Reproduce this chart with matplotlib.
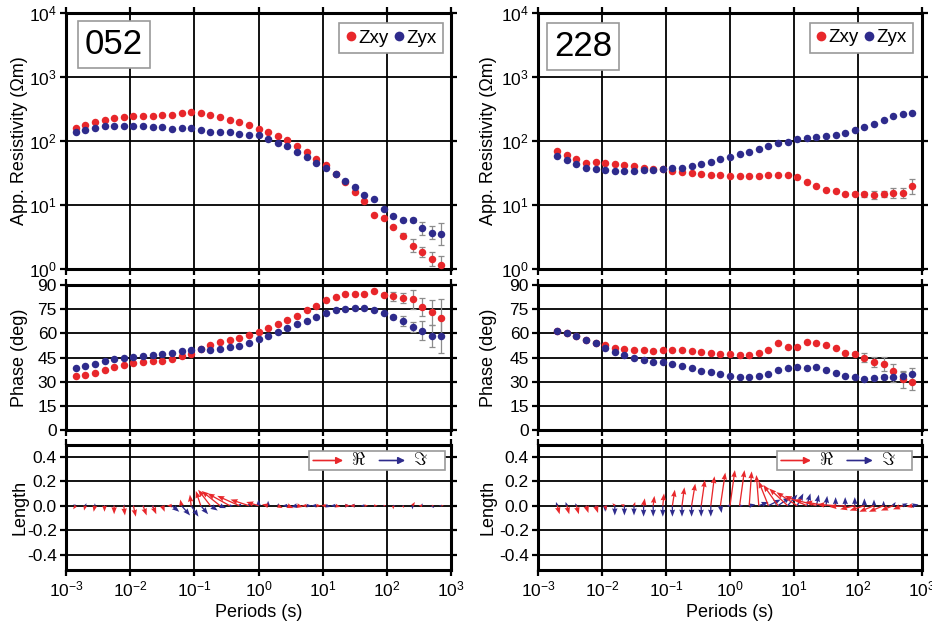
import numpy as np
import matplotlib
matplotlib.use("Agg")
import matplotlib.pyplot as plt
from matplotlib.patches import Rectangle
from matplotlib.lines import Line2D
from matplotlib.ticker import NullLocator, FixedLocator, FormatStrFormatter

plt.rcParams['font.family'] = ['Liberation Sans', 'DejaVu Sans']
plt.rcParams['mathtext.fontset'] = 'custom'
plt.rcParams['mathtext.rm'] = 'Liberation Sans'
plt.rcParams['mathtext.it'] = 'Liberation Sans:italic'
plt.rcParams['mathtext.bf'] = 'Liberation Sans:bold'
plt.rcParams['axes.unicode_minus'] = False

# ---------------- data ----------------
log_periods = [-2.85, -2.70, -2.55, -2.40, -2.25, -2.10, -1.95, -1.80, -1.65, -1.50,
               -1.35, -1.20, -1.05, -0.90, -0.75, -0.60, -0.45, -0.30, -0.15, 0.00,
               0.15, 0.30, 0.45, 0.60, 0.75, 0.90, 1.05, 1.20, 1.35, 1.50,
               1.65, 1.80, 1.95, 2.10, 2.25, 2.40, 2.55, 2.70, 2.85]

# Station 052 (all 39 periods)
rho052_xy = [160, 176, 195, 213, 229, 237, 246, 246, 246, 252, 252, 273, 287, 273, 255, 235, 213, 195, 178, 154,
             140, 121, 102, 83, 66.5, 52, 41.7, 30.5, 22.6, 16.2, 11.5, 7.1, 6.3, 4.5, 3.3, 2.3, 1.82, 1.42, 1.17]
rho052_yx = [136, 150, 162, 169, 169, 169, 174, 169, 167, 163, 154, 162, 162, 150, 140, 138, 136, 130, 124, 123,
             106, 94, 83.5, 68, 56, 46, 38, 30.5, 24, 18.9, 14.3, 12.3, 8.7, 6.8, 5.8, 5.8, 4.3, 3.7, 3.5]
rhoerr052_xy = [0]*33 + [0.02, 0.04, 0.10, 0.08, 0.11, 0.13]
rhoerr052_yx = [0]*34 + [0.02, 0.03, 0.095, 0.10, 0.17]
phs052_xy = [33.7, 34.3, 35.4, 37.0, 38.9, 40.3, 41.8, 42.4, 42.6, 42.8, 44.1, 45.7, 47.4, 50.3, 52.6, 54.6, 55.9,
             57.3, 58.8, 61.0, 63.1, 65.6, 68.1, 71.0, 74.5, 76.8, 80.5, 82.8, 84.2, 84.6, 84.6, 86.5, 84.0, 83.0,
             81.9, 81.1, 76.3, 73.0, 69.5]
phs052_yx = [38.5, 39.7, 41.0, 42.8, 43.9, 44.7, 45.3, 45.9, 46.6, 47.2, 48.0, 48.8, 49.9, 50.3, 49.9, 50.3, 51.3,
             52.1, 54.0, 56.3, 58.3, 61.0, 63.5, 65.6, 67.9, 69.9, 72.6, 74.3, 75.3, 75.9, 75.7, 74.3, 72.8, 70.1,
             67.7, 64.1, 61.7, 58.3, 58.3]
phserr052_xy = [0]*32 + [1.0, 2.7, 3.0, 5.7, 5.7, 8.0, 11.7]
phserr052_yx = [0]*33 + [1.5, 3.0, 3.0, 6.0, 7.0, 10.6]
tipre052_u = [-0.02, -0.01, -0.01, 0.0, 0.0, 0.01, 0.02, 0.03, 0.03, 0.02, -0.04, -0.01, -0.01, -0.04, -0.10,
              -0.15, -0.18, -0.18, -0.15, -0.10, -0.05, 0.04, 0.05, 0.05, -0.04, 0.04, -0.04, 0.04, 0.04, -0.04,
              0.03, 0.03, 0.02, 0.0, 0.01, 0.02, -0.03, 0.02, 0.02]
tipre052_v = [-0.03, -0.04, -0.05, -0.05, -0.07, -0.08, -0.09, -0.08, -0.07, -0.05, 0.0, 0.05, 0.09, 0.12, 0.13,
              0.12, 0.10, 0.08, 0.05, 0.03, 0.01, -0.02, -0.02, -0.01, 0.0, 0.0, 0.0, -0.01, 0.0, 0.0,
              0.0, 0.0, 0.0, -0.03, -0.02, 0.03, 0.0, 0.0, 0.0]
tipim052_u = [-0.02, 0.01, 0.0, 0.01, -0.01, 0.01, 0.0, 0.01, 0.01, 0.0, 0.06, 0.07, 0.06, 0.06, 0.06,
              0.05, 0.03, 0.02, 0.01, 0.0, 0.0, 0.01, -0.04, -0.05, 0.04, -0.04, 0.04, -0.04, 0.04, -0.04,
              -0.03, 0.0, 0.0, 0.02, 0.0, 0.0, 0.0, 0.02, -0.02]
tipim052_v = [0.01, 0.02, 0.02, 0.0, -0.01, 0.01, 0.0, -0.02, -0.03, -0.02, -0.05, -0.08, -0.09, -0.07, -0.04,
              -0.02, 0.0, 0.02, 0.03, 0.05, 0.04, 0.02, 0.0, -0.01, 0.0, 0.0, -0.01, 0.0, 0.0, 0.0,
              0.0, 0.0, 0.0, 0.0, 0.0, -0.03, 0.02, -0.02, 0.0]

# Station 228 (periods 2..39)
rho228_xy = [71, 60.8, 52, 45.5, 46.7, 45.5, 43.4, 41.9, 40.4, 38.5, 36.7, 36.4, 34.5, 33.3, 31.8, 30.2, 29.5,
             29.3, 28.8, 28.8, 28.8, 28.8, 29.3, 29.3, 29.3, 26.9, 22.9, 19.6, 17.4, 16.4, 15.1, 15.0, 14.7,
             14.3, 14.7, 15.4, 15.2, 19.5]
rho228_yx = [59.3, 50.7, 43.4, 38.5, 36.7, 35, 33.7, 33.7, 34.1, 35, 35.8, 36.7, 37.6, 38.5, 40.9, 43.9, 47.8,
             51.9, 55.7, 62, 68.4, 75.2, 83.8, 94.6, 96.8, 109, 113, 115, 118, 125, 131, 147.5, 166, 185, 212,
             245, 266, 275]
rhoerr228_xy = [0]*31 + [0.02, 0.04, 0.057, 0.05, 0.083, 0.078, 0.117]
rhoerr228_yx = [0]*38
phs228_xy = [61.7, 60.2, 58.3, 56.1, 53.8, 53.0, 51.1, 50.1, 49.9, 49.7, 49.2, 49.7, 49.7, 49.5, 49.2, 48.4,
             47.8, 47.4, 47.0, 46.3, 46.8, 47.8, 49.5, 53.8, 51.7, 51.5, 54.4, 54.2, 53.0, 50.9, 47.8, 47.4,
             44.9, 42.0, 41.2, 36.8, 31.5, 29.8]
phs228_yx = [61.7, 60.2, 58.3, 56.1, 53.8, 50.9, 48.2, 46.3, 44.7, 43.5, 42.4, 42.2, 41.0, 39.7, 38.3, 36.6,
             35.8, 34.8, 33.7, 32.9, 32.9, 33.3, 35.0, 37.2, 38.7, 39.3, 38.3, 38.9, 37.0, 35.4, 33.7, 32.9,
             31.5, 32.1, 32.9, 32.9, 33.3, 34.8]
phserr228_xy = [0]*31 + [1.0, 2.6, 3.1, 4.4, 4.4, 5.4, 5.2]
phserr228_yx = [0]*34 + [1.5, 3.4, 3.0, 3.5]
tipre228_u = [0.02, 0.02, 0.02, 0.02, 0.02, 0.01, -0.02, -0.03, 0.01, 0.01, 0.01, 0.01, 0.02, 0.02, 0.03,
              0.03, 0.03, 0.04, 0.04, 0.04, 0.02, -0.02, -0.08, -0.12, -0.15, -0.17, -0.18, -0.18, -0.17,
              -0.15, -0.13, -0.12, -0.12, -0.12, -0.12, -0.10, -0.08, -0.05]
tipre228_v = [-0.07, -0.07, -0.07, -0.06, -0.06, -0.04, 0.02, 0.01, 0.03, 0.06, 0.08, 0.10, 0.13, 0.15, 0.18,
              0.21, 0.24, 0.27, 0.29, 0.29, 0.28, 0.25, 0.20, 0.17, 0.14, 0.11, 0.08, 0.05, 0.03, 0.01,
              -0.01, -0.03, -0.04, -0.05, -0.05, -0.04, -0.03, -0.01]
tipim228_u = [-0.01, -0.01, -0.01, 0.01, 0.01, 0.0, 0.0, 0.0, 0.0, 0.0, 0.0, 0.0, 0.0, 0.0, 0.0, 0.0, 0.0,
              0.01, -0.03, 0.03, 0.05, 0.08, 0.10, 0.10, 0.08, 0.05, 0.03, 0.02, 0.01, 0.0, 0.0, 0.0, 0.0,
              0.0, 0.0, 0.02, 0.04, 0.05]
tipim228_v = [0.03, 0.03, 0.02, -0.02, -0.03, -0.05, -0.08, -0.08, -0.08, -0.09, -0.09, -0.09, -0.09, -0.09,
              -0.09, -0.09, -0.09, -0.06, 0.0, 0.0, 0.01, 0.03, 0.05, 0.07, 0.09, 0.10, 0.10, 0.09, 0.08,
              0.07, 0.07, 0.07, 0.06, 0.05, 0.04, 0.03, 0.02, 0.01]

stations = ['052', '228']
series_labels = ['Zxy', 'Zyx']
xtick_labels_exp = [-3, -2, -1, 0, 1, 2, 3]
phase_ticks = [0, 15, 30, 45, 60, 75, 90]
length_ticks = [-0.4, -0.2, 0.0, 0.2, 0.4]

RED = '#e8272b'
BLUE = '#2e2b8c'
ERR = '#8c8c8c'

# ---------------- layout ----------------
W, H = 932, 626
fig = plt.figure(figsize=(W / 100, H / 100), dpi=100)


def rect(x0, x1, top, bot):
    return [x0 / W, 1 - bot / H, (x1 - x0) / W, (bot - top) / H]


cols = [(66, 451), (538, 922)]
rows = [(13, 269), (285, 430), (445, 570)]


def style(ax, bottom_labels=False):
    for s in ax.spines.values():
        s.set_linewidth(2.2)
        s.set_color('black')
    ax.set_xscale('log')
    ax.set_xlim(1e-3, 1e3)
    ax.xaxis.set_major_locator(FixedLocator([10.0 ** e for e in xtick_labels_exp]))
    ax.xaxis.set_minor_locator(NullLocator())
    ax.grid(True, which='major', color='black', lw=1.3)
    ax.set_axisbelow(True)
    ax.tick_params(which='major', direction='out', length=4, width=1.6, top=True, right=True,
                   labelsize=12.5, pad=2.5)
    if not bottom_labels:
        ax.tick_params(labelbottom=False)


data = {
    '052': dict(logT=log_periods, rxy=rho052_xy, ryx=rho052_yx, rexy=rhoerr052_xy, reyx=rhoerr052_yx,
                pxy=phs052_xy, pyx=phs052_yx, pexy=phserr052_xy, peyx=phserr052_yx,
                ru=tipre052_u, rv=tipre052_v, iu=tipim052_u, iv=tipim052_v),
    '228': dict(logT=log_periods[1:], rxy=rho228_xy, ryx=rho228_yx, rexy=rhoerr228_xy, reyx=rhoerr228_yx,
                pxy=phs228_xy, pyx=phs228_yx, pexy=phserr228_xy, peyx=phserr228_yx,
                ru=tipre228_u, rv=tipre228_v, iu=tipim228_u, iv=tipim228_v),
}

label_x = [-0.098, -0.107]
station_pos = [(0.125, 0.877), (0.117, 0.869)]
legend_anchor = [(0.979, 0.961), (0.977, 0.962)]

for ci, st in enumerate(stations):
    d = data[st]
    T = 10.0 ** np.array(d['logT'])
    x0, x1 = cols[ci]

    # ---- apparent resistivity ----
    ax = fig.add_axes(rect(x0, x1, *rows[0]))
    style(ax)
    ax.set_yscale('log')
    ax.set_ylim(1, 1e4)
    ax.yaxis.set_major_locator(FixedLocator([1, 10, 100, 1000, 10000]))
    ax.yaxis.set_minor_locator(NullLocator())
    for rho, err, col in [(d['ryx'], d['reyx'], BLUE), (d['rxy'], d['rexy'], RED)]:
        rho = np.array(rho, float)
        err = np.array(err, float)
        m = err > 0
        if m.any():
            lo = rho[m] * (1 - 10 ** -err[m])
            hi = rho[m] * (10 ** err[m] - 1)
            ax.errorbar(T[m], rho[m], yerr=[lo, hi], fmt='none', ecolor=ERR, elinewidth=0.9,
                        capsize=2, capthick=0.9, zorder=3)
    ax.plot(T, d['rxy'], 'o', color=RED, ms=5.4, mec='none', zorder=4)
    ax.plot(T, d['ryx'], 'o', color=BLUE, ms=5.4, mec='none', zorder=4)
    ax.set_ylabel('App. Resistivity (Ωm)', fontsize=13)
    ax.yaxis.set_label_coords(label_x[ci], 0.5)
    sx, sy = station_pos[ci]
    ax.text(sx, sy, st, transform=ax.transAxes, fontsize=25, ha='center', va='center', zorder=6,
            bbox=dict(boxstyle='square,pad=0.2', fc='white', ec='#9a9a9a', lw=1.2))
    handles = [Line2D([], [], marker='o', ls='none', color=RED, ms=7, mec='none'),
               Line2D([], [], marker='o', ls='none', color=BLUE, ms=7, mec='none')]
    leg = ax.legend(handles, series_labels, ncol=2, loc='upper right', bbox_to_anchor=legend_anchor[ci],
                    fontsize=13.5, frameon=True, fancybox=False, edgecolor='#9a9a9a', framealpha=1,
                    handlelength=0.5, handletextpad=0.15, columnspacing=0.3, borderpad=0.35,
                    borderaxespad=0)
    leg.get_frame().set_linewidth(1.2)

    # ---- phase ----
    ax = fig.add_axes(rect(x0, x1, *rows[1]))
    style(ax)
    ax.set_ylim(0, 90)
    ax.yaxis.set_major_locator(FixedLocator(phase_ticks))
    for ph, err, col in [(d['pyx'], d['peyx'], BLUE), (d['pxy'], d['pexy'], RED)]:
        ph = np.array(ph, float)
        err = np.array(err, float)
        m = err > 0
        if m.any():
            ax.errorbar(T[m], ph[m], yerr=err[m], fmt='none', ecolor=ERR, elinewidth=0.9,
                        capsize=2, capthick=0.9, zorder=3)
    ax.plot(T, d['pxy'], 'o', color=RED, ms=5.4, mec='none', zorder=4)
    ax.plot(T, d['pyx'], 'o', color=BLUE, ms=5.4, mec='none', zorder=4)
    ax.set_ylabel('Phase (deg)', fontsize=13)
    ax.yaxis.set_label_coords(label_x[ci], 0.5)

    # ---- induction arrows ----
    ax = fig.add_axes(rect(x0, x1, *rows[2]))
    style(ax, bottom_labels=True)
    ax.set_ylim(-0.525, 0.495)
    ax.yaxis.set_major_locator(FixedLocator(length_ticks))
    ax.yaxis.set_major_formatter(FormatStrFormatter('%.1f'))
    zeros = np.zeros(len(T))
    qkw = dict(angles='uv', scale_units='y', scale=1, units='dots', width=1.3,
               headwidth=4.2, headlength=5.5, headaxislength=5, zorder=3)
    ax.quiver(T, zeros, d['iu'], d['iv'], color=BLUE, **qkw)
    ax.quiver(T, zeros, d['ru'], d['rv'], color=RED, **qkw)
    ax.set_ylabel('Length', fontsize=13)
    ax.yaxis.set_label_coords(label_x[ci], 0.5)
    ax.set_xlabel('Periods (s)', fontsize=13)
    ax.xaxis.set_label_coords(0.5, -0.27)

    # legend box for arrows
    bx0 = 0.631 if ci == 0 else 0.622
    ax.add_patch(Rectangle((bx0, 0.80), 0.353, 0.152, transform=ax.transAxes, fc='white',
                           ec='#9a9a9a', lw=1.2, zorder=5))
    yy = 0.876
    for (a0, a1, tx, col, lab) in [(bx0 + 0.011, bx0 + 0.089, bx0 + 0.128, RED, r'$\Re$'),
                                    (bx0 + 0.183, bx0 + 0.250, bx0 + 0.290, BLUE, r'$\Im$')]:
        ax.annotate('', xy=(a1, yy), xytext=(a0, yy), xycoords='axes fraction',
                    arrowprops=dict(arrowstyle='-|>', color=col, lw=1.2, mutation_scale=10,
                                    shrinkA=0, shrinkB=0), zorder=6)
        ax.text(tx, yy, lab, transform=ax.transAxes, fontsize=13, ha='center', va='center', zorder=6)

fig.savefig('out.png', dpi=100, facecolor='white')
